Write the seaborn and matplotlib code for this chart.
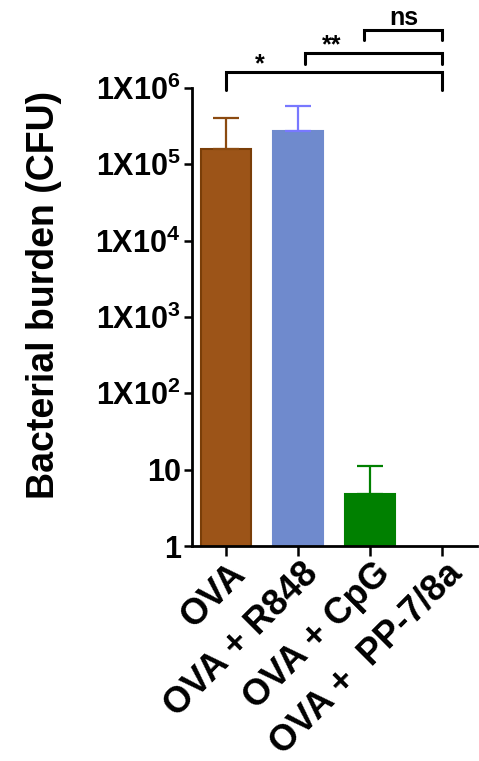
import matplotlib
matplotlib.use('Agg')
from matplotlib import pyplot as plt
from matplotlib import ticker
from matplotlib import transforms
import pandas as pd
import seaborn as sns

sns.set_style('white')
plt.rcParams['font.family'] = ['Liberation Sans', 'DejaVu Sans']
plt.rcParams['font.weight'] = 'bold'
plt.rcParams['mathtext.fontset'] = 'custom'
plt.rcParams['mathtext.rm'] = 'Liberation Sans:bold'
plt.rcParams['mathtext.it'] = 'Liberation Sans:bold'
plt.rcParams['mathtext.bf'] = 'Liberation Sans:bold'
for k in ['text.color', 'axes.labelcolor', 'xtick.color', 'ytick.color']:
    plt.rcParams[k] = 'black'

groups = ['OVA', 'OVA + R848', 'OVA + CpG', 'OVA +  PP-7/8a']
means = [1.6e5, 2.7e5, 4.8, 1.0]
upper = [4.1e5, 5.8e5, 11.2, 1.0]
bar_colors = ['#9C5418', '#6F8ACD', '#008000', '#FFFFFF']
edge_colors = ['#7A3E08', '#6F8ACD', '#008000', 'none']
err_colors = ['#8B4A10', '#7878FF', '#008000', '#FFFFFF']

ytick_vals = [1, 10, 100, 1e3, 1e4, 1e5, 1e6]
ytick_labels = ['1', '10', '1X10$^{2}$', '1X10$^{3}$', '1X10$^{4}$', '1X10$^{5}$', '1X10$^{6}$']

# significance brackets: left x, right x, top y, foot y, label, label x, label y
brackets = [
    (0, 3, 1.62e6, 0.94e6, '*', 0.47, 1.65e6),
    (1.1, 3, 2.88e6, 2.06e6, '**', 1.47, 2.95e6),
    (1.92, 3, 5.76e6, 4.25e6, 'ns', 2.47, 6.7e6),
]

df = pd.DataFrame({'group': groups, 'cfu': means})

fig = plt.figure(figsize=(4.79, 7.61), dpi=100)
ax = fig.add_axes([0.4008, 0.2825, 0.595, 0.6019])
ax.set_yscale('log')

sns.barplot(data=df, x='group', y='cfu', hue='group', palette=bar_colors,
            saturation=1, width=0.7, legend=False, ax=ax, errorbar=None)
for patch, ec in zip(ax.patches, edge_colors):
    patch.set_edgecolor(ec)
    patch.set_linewidth(1.5)

for i, (m, u, c) in enumerate(zip(means, upper, err_colors)):
    if u > m:
        ax.errorbar(i, m, yerr=[[0], [u - m]], fmt='none', ecolor=c,
                    elinewidth=1.6, capsize=9.5, capthick=1.6, clip_on=False)

ax.set_ylim(1, 1e6)
ax.set_xlim(-0.47, 3.49)
ax.yaxis.set_major_locator(ticker.FixedLocator(ytick_vals))
ax.yaxis.set_major_formatter(ticker.FixedFormatter(ytick_labels))
ax.yaxis.set_minor_locator(ticker.NullLocator())
ax.tick_params(axis='y', which='major', direction='out', length=6, width=1.8,
               labelsize=22, left=True, pad=2)
ax.tick_params(axis='x', direction='out', length=7, width=1.8, bottom=True, pad=2)

for s in ['top', 'right']:
    ax.spines[s].set_visible(False)
for s in ['left', 'bottom']:
    ax.spines[s].set_linewidth(2)
    ax.spines[s].set_color('black')

ax.set_xlabel('')
ax.set_ylabel('Bacterial burden (CFU)', fontsize=27, fontweight='bold')
ax.yaxis.set_label_coords(-0.455, 0.548)
ax.set_xticks(range(len(groups)))
ax.set_xticklabels(groups, rotation=45, ha='right', va='center', rotation_mode='anchor',
                   fontsize=26, fontweight='bold')
shift = transforms.ScaledTranslation(15 / 100, -10 / 100, fig.dpi_scale_trans)
for lab in ax.get_xticklabels():
    lab.set_transform(lab.get_transform() + shift)

for x0, x1, yt, yf, lab, lx, ly in brackets:
    ax.plot([x0, x0, x1, x1], [yf, yt, yt, yf], color='black',
            lw=2.2, clip_on=False, solid_joinstyle='miter')
    ax.text(lx, ly, lab, ha='center', va='baseline', fontsize=18,
            fontweight='bold', clip_on=False)

fig.savefig('out.png', dpi=100)
